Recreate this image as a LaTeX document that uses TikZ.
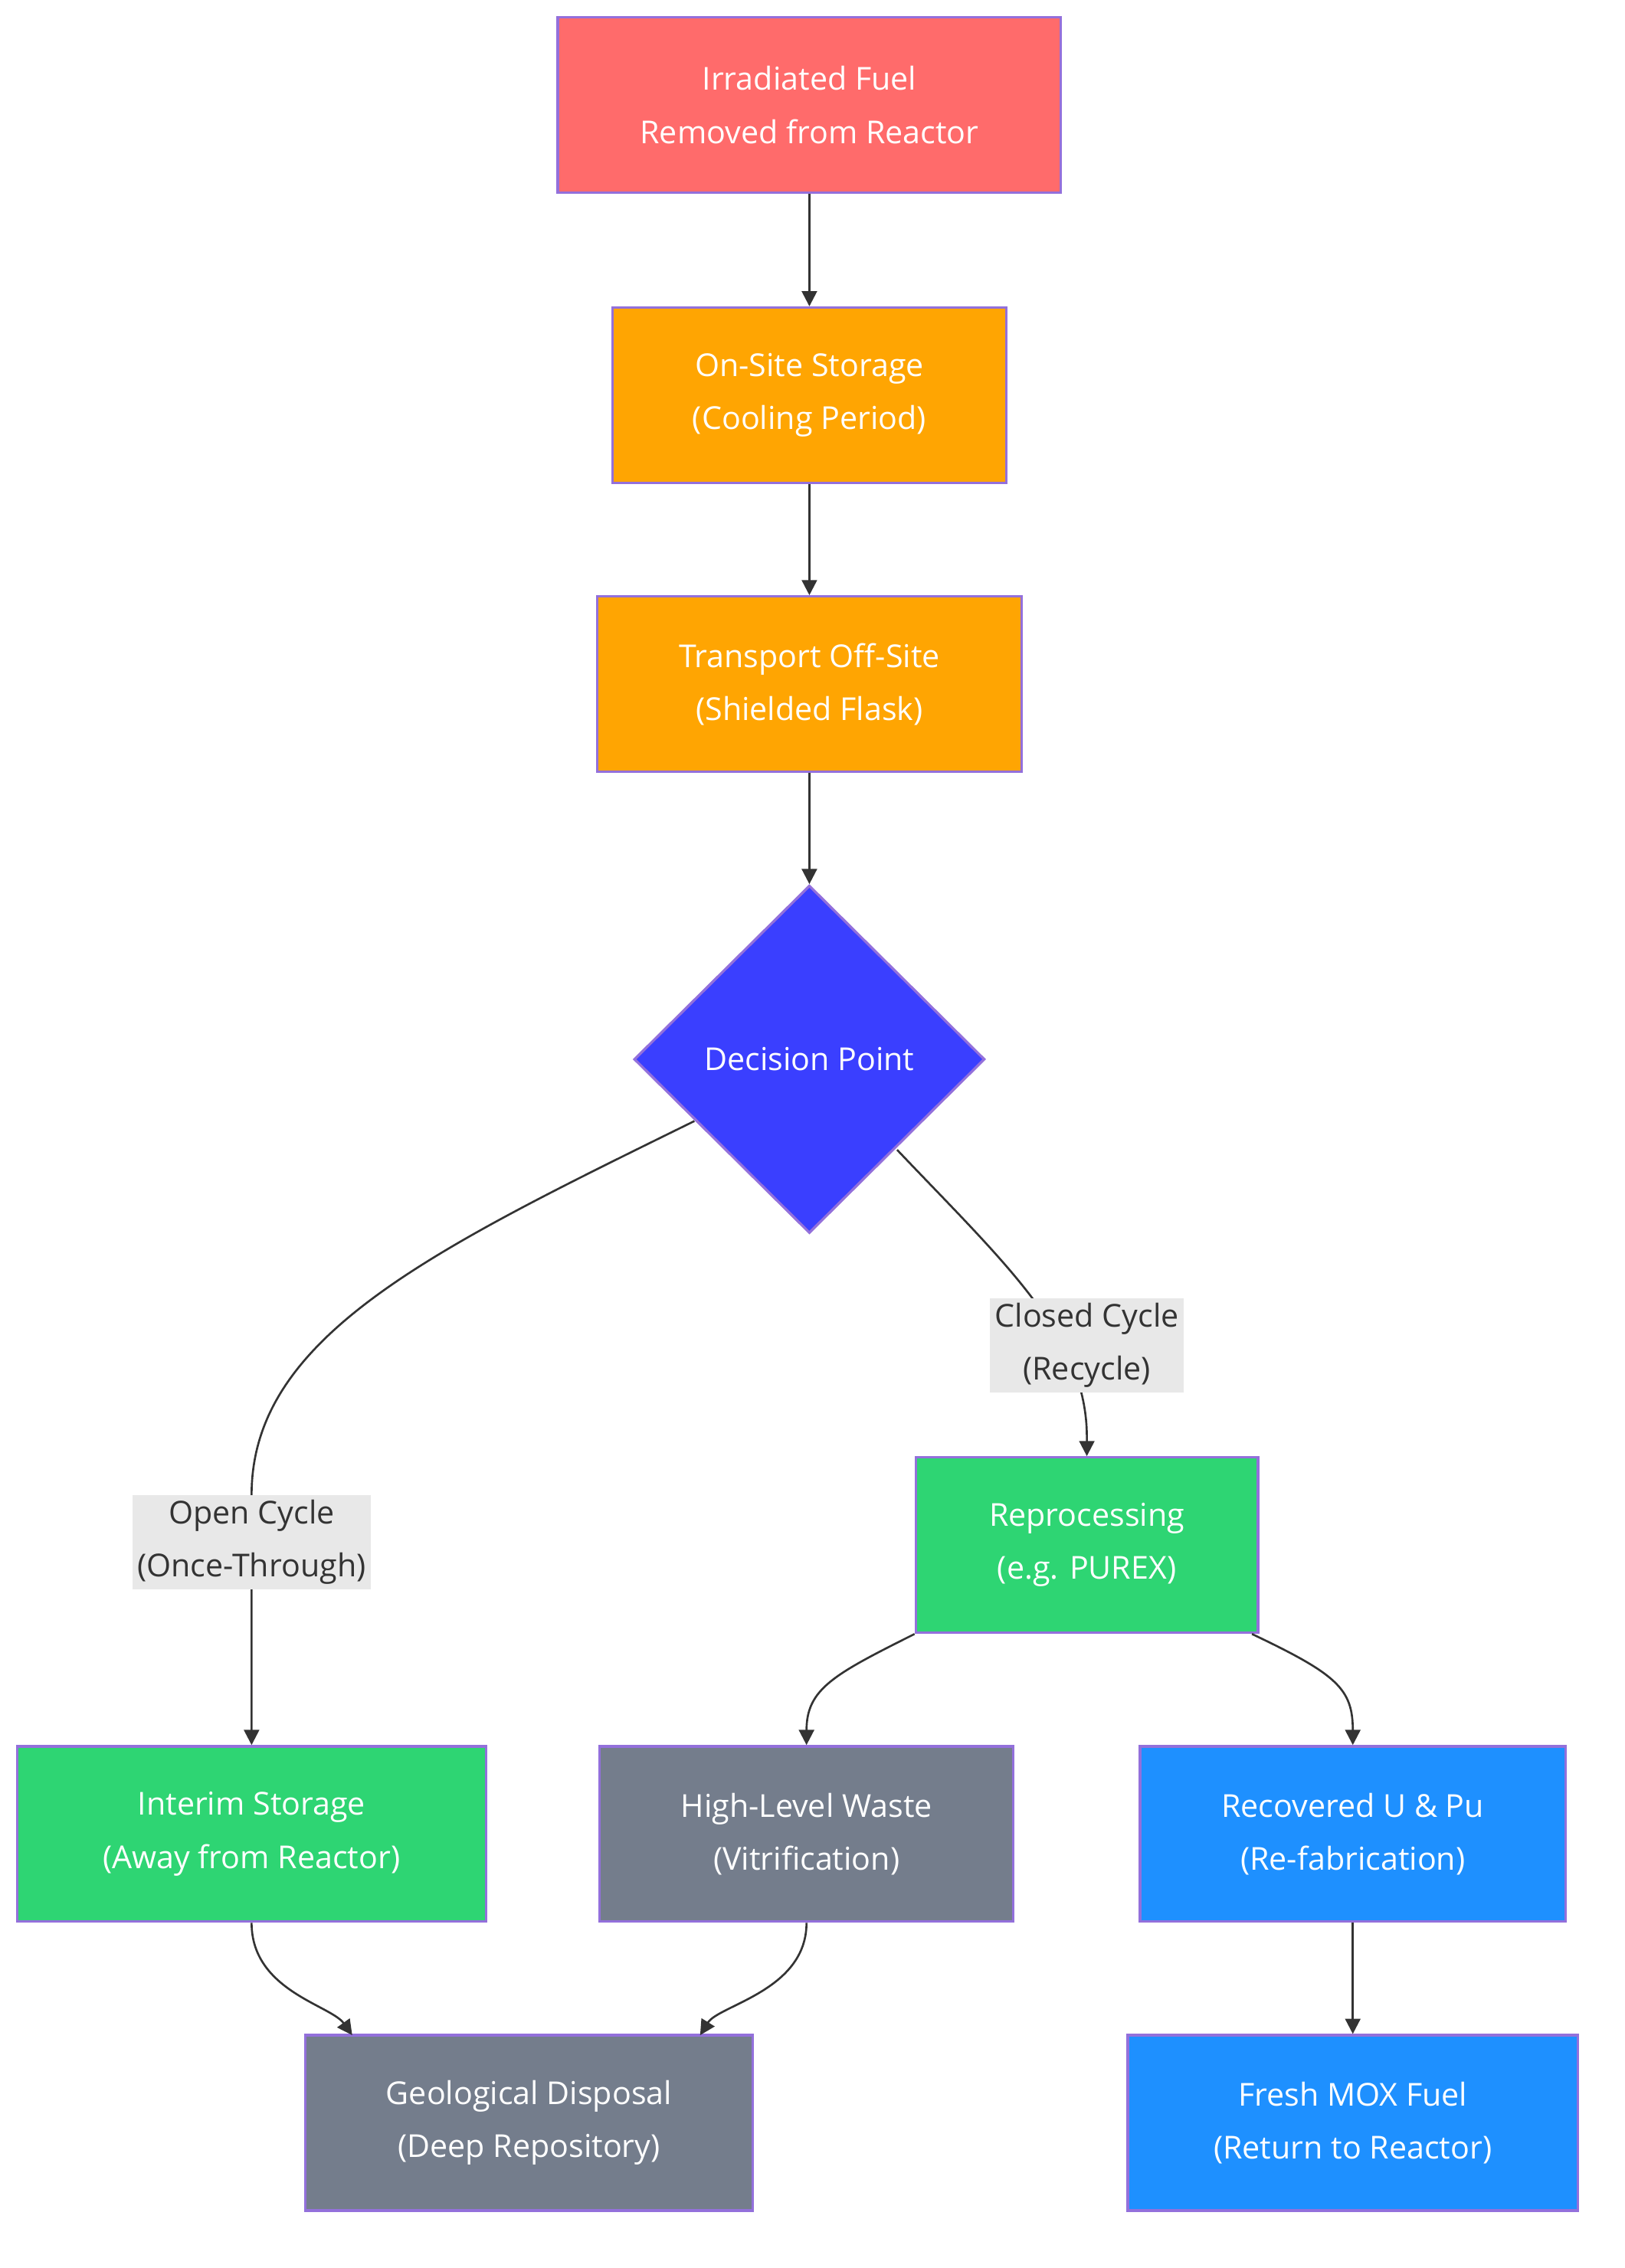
\documentclass[tikz,border=0pt]{standalone}
\usepackage{fontspec}
\setmainfont{Open Sans}
\usetikzlibrary{shapes.geometric,arrows.meta}
\definecolor{redfill}{HTML}{FF6B6B}
\definecolor{orangefill}{HTML}{FFA502}
\definecolor{greenfill}{HTML}{2ED573}
\definecolor{grayfill}{HTML}{747D8C}
\definecolor{bluefill}{HTML}{1E90FF}
\definecolor{decfill}{HTML}{3A3FFF}
\definecolor{edgecol}{HTML}{9370DB}
\definecolor{linecol}{HTML}{333333}
\definecolor{labelbg}{HTML}{E8E8E8}
\tikzset{
  box/.style={draw=edgecol, line width=1pt, text=white, align=center,
    minimum height=2.44cm, inner sep=0pt, font=\fontsize{12.5}{21}\selectfont},
  lbl/.style={fill=labelbg, text=linecol, align=center, inner sep=2pt,
    font=\fontsize{12.5}{21}\selectfont},
  flow/.style={draw=linecol, line width=0.8pt, -{Triangle[length=6pt,width=6pt]}}
}
\begin{document}
\begin{tikzpicture}[x=0.02cm,y=-0.02cm]
  \useasboundingbox (0,0) rectangle (1130,1578);
  % main chain
  \node[box, fill=redfill, minimum width=7cm] (irr) at (563,73) {Irradiated Fuel\\Removed from Reactor};
  \node[box, fill=orangefill, minimum width=5.48cm] (onsite) at (563,275) {On-Site Storage\\(Cooling Period)};
  \node[box, fill=orangefill, minimum width=5.9cm] (transport) at (563,476) {Transport Off-Site\\(Shielded Flask)};
  \node[diamond, draw=edgecol, line width=1pt, fill=decfill, text=white, minimum width=4.88cm,
    minimum height=4.84cm, inner sep=0pt, font=\fontsize{12.5}{21}\selectfont] (decision) at (563,737) {Decision Point};
  % branches
  \node[box, fill=greenfill, minimum width=4.76cm] (repro) at (756,1075) {Reprocessing\\(e.g. PUREX)};
  \node[box, fill=greenfill, minimum width=6.52cm] (interim) at (175,1276) {Interim Storage\\(Away from Reactor)};
  \node[box, fill=grayfill, minimum width=5.76cm] (hlw) at (561,1276) {High-Level Waste\\(Vitrification)};
  \node[box, fill=bluefill, minimum width=5.92cm] (recov) at (941,1276) {Recovered U \& Pu\\(Re-fabrication)};
  \node[box, fill=grayfill, minimum width=6.22cm] (geo) at (368,1477) {Geological Disposal\\(Deep Repository)};
  \node[box, fill=bluefill, minimum width=6.26cm] (mox) at (941,1477) {Fresh MOX Fuel\\(Return to Reactor)};
  \coordinate (dl) at (483,780);
  \coordinate (dr) at (624,800);
  % connectors
  \draw[flow] (irr) -- (onsite);
  \draw[flow] (onsite) -- (transport);
  \draw[flow] (transport) -- (decision);
  \draw[flow] (dl) .. controls (300,870) and (175,930) .. (175,1040) -- (interim.north);
  \draw[flow] (dr) .. controls (700,880) and (756,930) .. (756,1000) -- (repro.north);
  \draw[flow] (repro.south west) .. controls (580,1165) and (561,1175) .. (hlw.north);
  \draw[flow] ([xshift=-0.1cm]repro.south east) .. controls (930,1165) and (941,1175) .. (recov.north);
  \draw[flow] (recov) -- (mox);
  \draw[flow] (interim.south) .. controls (175,1385) and (230,1395) .. (245,1416);
  \draw[flow] (hlw.south) .. controls (561,1385) and (500,1395) .. (487,1416);
  % labels
  \node[lbl] (openlbl) at (175,1073) {Open Cycle\\(Once-Through)};
  \node[lbl] (closedlbl) at (756,936) {Closed Cycle\\(Recycle)};
\end{tikzpicture}
\end{document}
